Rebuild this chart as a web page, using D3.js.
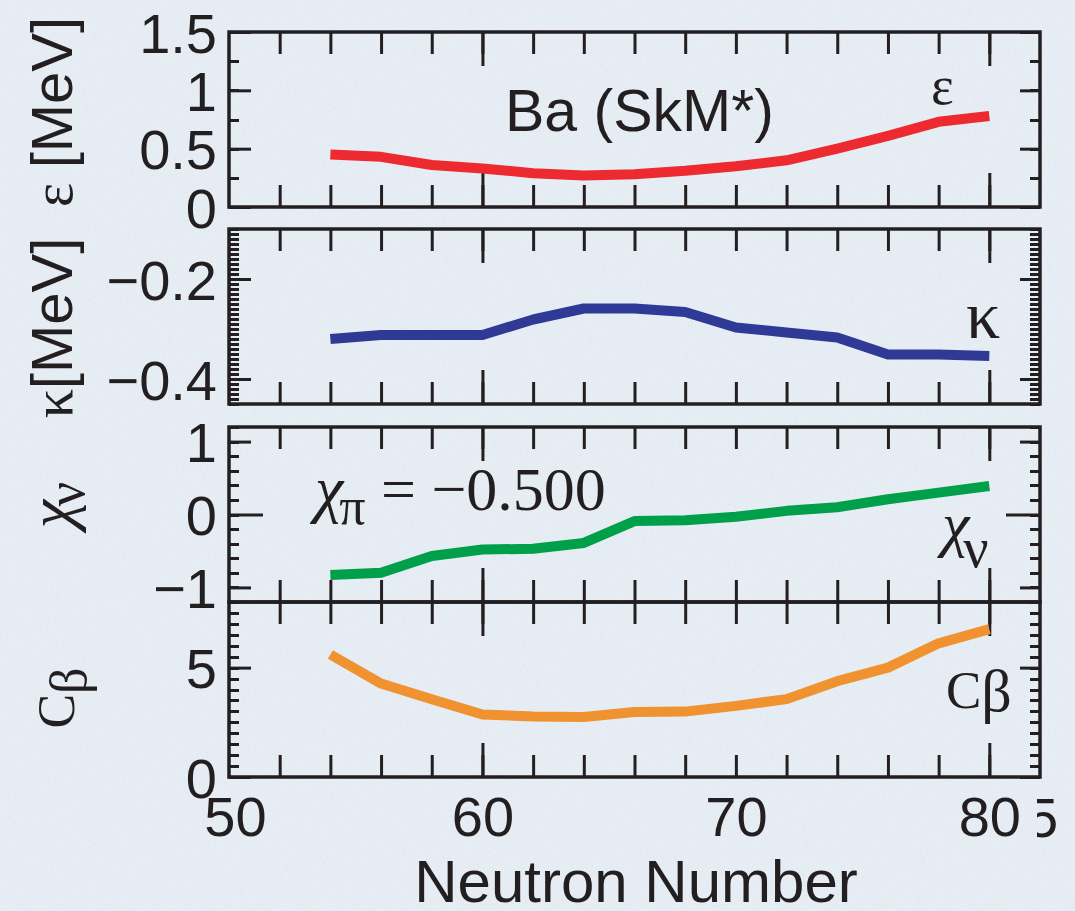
<!DOCTYPE html>
<html>
<head>
<meta charset="utf-8">
<script src="https://d3js.org/d3.v7.min.js"></script>
<style>
  body { margin: 0; background: #e6edf4; }
  svg { display: block; }
  .tick text { font-family: "Liberation Sans", Arial, sans-serif; font-size: 56px; fill: #231f20; }
  .serif { font-family: "Liberation Serif", "Times New Roman", serif; }
  .sans { font-family: "Liberation Sans", Arial, sans-serif; }
</style>
</head>
<body>
<div id="chart"></div>
<script>
/* Values */
var neutrons = [54, 56, 58, 60, 62, 64, 66, 68, 70, 72, 74, 76, 78, 80];
var epsilon = [0.45, 0.43, 0.36, 0.33, 0.29, 0.27, 0.28, 0.31, 0.35, 0.40, 0.50, 0.61, 0.73, 0.78];
var kappa = [-0.32, -0.312, -0.312, -0.312, -0.281, -0.259, -0.259, -0.266, -0.297, -0.307, -0.317, -0.351, -0.351, -0.354];
var chiNu = [-0.83, -0.80, -0.57, -0.48, -0.47, -0.39, -0.09, -0.08, -0.03, 0.05, 0.10, 0.21, 0.30, 0.39];
var cBeta = [5.6, 4.27, 3.55, 2.86, 2.77, 2.74, 2.97, 2.99, 3.25, 3.56, 4.38, 5.0, 6.11, 6.76];

var xMinorTicks = d3.range(52, 82, 2);
var xMajorTicks = [60, 80];
var xTickLabels = [50, 60, 70, 80];

var epsTicks = [0, 0.5, 1, 1.5];
var kapTicks = [-0.4, -0.2];
var chiTicks = [-1, 0, 1];
var cbTicks = [0, 5];

var width = 1075, height = 911;
var left = 229, right = 1040;
var panelH = 175;
var ink = "#231f20";

var svg = d3.select("#chart").append("svg")
  .attr("width", width)
  .attr("height", height);

// paper-like background
var defs = svg.append("defs");
var f = defs.append("filter").attr("id", "paper").attr("x", 0).attr("y", 0).attr("width", "100%").attr("height", "100%");
f.append("feTurbulence").attr("type", "fractalNoise").attr("baseFrequency", "0.35 0.9").attr("numOctaves", 3).attr("seed", 7);
f.append("feColorMatrix").attr("type", "saturate").attr("values", 0);
svg.append("rect").attr("width", width).attr("height", height).attr("fill", "#e8eff6");
svg.append("rect").attr("width", width).attr("height", height).attr("filter", "url(#paper)").attr("opacity", 0.1);

var x = d3.scaleLinear().domain([50, 82]).range([left, right]);

var panels = [
  { top: 32, domain: [0, 1.5], values: epsilon, color: "#ec2a30", major: epsTicks, long: [], minorStep: 0.25, minorW: 3 },
  { top: 229, domain: [-0.45, -0.1], values: kappa, color: "#2f3a96", major: kapTicks, long: [], minorStep: 0.01, minorW: 2.5 },
  { top: 427, domain: [-1.2, 1.2], values: chiNu, color: "#00a04b", major: [-1, 1], long: [0], minorStep: 0.2, minorW: 3 },
  { top: 602, domain: [0, 8], values: cBeta, color: "#f0922f", major: cbTicks, long: [], minorStep: 0.5, minorW: 3 }
];
var labelSets = [epsTicks, kapTicks, chiTicks, cbTicks];

function noDomain(g) { g.select(".domain").remove(); }

panels.forEach(function (p, i) {
  var y = d3.scaleLinear().domain(p.domain).range([p.top + panelH, p.top]);
  var g = svg.append("g").attr("color", ink);
  var bottom = p.top + panelH;

  var lo = p.domain[0], hi = p.domain[1];
  var minor = d3.range(Math.ceil(lo / p.minorStep - 1e-9), Math.floor(hi / p.minorStep + 1e-9) + 1)
    .map(function (k) { return +(k * p.minorStep).toFixed(4); });

  // x ticks, top and bottom of each panel, pointing in
  g.append("g").attr("transform", "translate(0," + p.top + ")")
    .call(d3.axisTop(x).tickValues(xMinorTicks).tickSize(-22).tickFormat("")).call(noDomain);
  g.append("g").attr("transform", "translate(0," + p.top + ")")
    .call(d3.axisTop(x).tickValues(xMajorTicks).tickSize(-34).tickFormat("")).call(noDomain);
  g.append("g").attr("transform", "translate(0," + bottom + ")")
    .call(d3.axisBottom(x).tickValues(xMinorTicks).tickSize(-22).tickFormat("")).call(noDomain);
  g.append("g").attr("transform", "translate(0," + bottom + ")")
    .call(d3.axisBottom(x).tickValues(xMajorTicks).tickSize(-34).tickFormat("")).call(noDomain);

  g.selectAll(".tick line").attr("stroke-width", 3);

  // y minor ticks, both sides
  var mg = g.append("g").attr("shape-rendering", "crispEdges");
  mg.append("g").attr("transform", "translate(" + left + ",0)")
    .call(d3.axisLeft(y).tickValues(minor).tickSize(-10).tickFormat("")).call(noDomain);
  mg.append("g").attr("transform", "translate(" + right + ",0)")
    .call(d3.axisRight(y).tickValues(minor).tickSize(-10).tickFormat("")).call(noDomain);
  mg.selectAll(".tick line").attr("stroke-width", p.minorW);

  // y major ticks
  var jg = g.append("g");
  jg.append("g").attr("transform", "translate(" + left + ",0)")
    .call(d3.axisLeft(y).tickValues(p.major).tickSize(-22).tickFormat("")).call(noDomain);
  jg.append("g").attr("transform", "translate(" + right + ",0)")
    .call(d3.axisRight(y).tickValues(p.major).tickSize(-20).tickFormat("")).call(noDomain);
  if (p.long.length) {
    jg.append("g").attr("transform", "translate(" + left + ",0)")
      .call(d3.axisLeft(y).tickValues(p.long).tickSize(-34).tickFormat("")).call(noDomain);
    jg.append("g").attr("transform", "translate(" + right + ",0)")
      .call(d3.axisRight(y).tickValues(p.long).tickSize(-34).tickFormat("")).call(noDomain);
  }
  jg.selectAll(".tick line").attr("stroke-width", 3);

  // tick labels
  g.append("g").attr("transform", "translate(" + left + ",0)")
    .call(d3.axisLeft(y).tickValues(labelSets[i]).tickSize(0).tickPadding(12).tickFormat(d3.format("")))
    .call(noDomain)
    .selectAll("text").attr("dy", "0.36em");

  // frame
  g.append("rect")
    .attr("x", left).attr("y", p.top)
    .attr("width", right - left).attr("height", panelH)
    .attr("fill", "none").attr("stroke", ink).attr("stroke-width", 3.5);

  // curve
  var line = d3.line()
    .x(function (d, j) { return x(neutrons[j]); })
    .y(function (d) { return y(d); });
  svg.append("path")
    .datum(p.values)
    .attr("d", line)
    .attr("fill", "none")
    .attr("stroke", p.color)
    .attr("stroke-width", 10)
    .attr("stroke-linejoin", "round")
    .attr("stroke-linecap", "butt");

  if (i === panels.length - 1) {
    g.append("g").attr("transform", "translate(0," + bottom + ")")
      .call(d3.axisBottom(x).tickValues(xTickLabels).tickSize(0).tickPadding(19).tickFormat(d3.format("")))
      .call(noDomain)
      .selectAll("text").attr("dx", function (d) { return d === 50 ? 6 : 0; });
  }
});

// clipped digit at the right of the x axis
defs.append("clipPath").attr("id", "cut").append("rect")
  .attr("x", 1037).attr("y", 780).attr("width", 40).attr("height", 80);
svg.append("text").attr("class", "sans").attr("clip-path", "url(#cut)")
  .attr("x", 1027).attr("y", 837).attr("font-size", 56).attr("fill", ink).text("5");

// axis title
svg.append("text").attr("class", "sans")
  .attr("x", 636).attr("y", 902).attr("text-anchor", "middle")
  .attr("font-size", 60).attr("fill", ink).text("Neutron Number");

// y titles (rotated)
function yTitle(cx, cy, build) {
  var t = svg.append("text")
    .attr("transform", "translate(" + cx + "," + cy + ") rotate(-90)")
    .attr("text-anchor", "middle").attr("fill", ink).attr("font-size", 58);
  build(t);
}
yTitle(72, 112, function (t) {
  t.append("tspan").attr("class", "serif").text("ε ");
  t.append("tspan").attr("class", "sans").text("[MeV]");
});
yTitle(72, 328, function (t) {
  t.append("tspan").attr("class", "serif").text("κ");
  t.append("tspan").attr("class", "sans").text("[MeV]");
});
yTitle(72, 505, function (t) {
  t.append("tspan").attr("class", "serif").attr("font-size", 64).attr("font-style", "italic").text("χ");
  t.append("tspan").attr("class", "serif").attr("font-size", 54).attr("dy", 12).attr("dx", -6).text("ν");
});
yTitle(74, 698, function (t) {
  t.append("tspan").attr("class", "serif").attr("font-size", 52).text("C");
  t.append("tspan").attr("class", "serif").attr("font-size", 52).attr("dy", 12).text("β");
});

// in-panel annotations
svg.append("text").attr("class", "sans").attr("x", 505).attr("y", 131)
  .attr("font-size", 59).attr("fill", ink).text("Ba (SkM*)");
svg.append("text").attr("class", "serif").attr("x", 931).attr("y", 104)
  .attr("font-size", 54).attr("fill", ink).text("ε");
svg.append("text").attr("class", "serif").attr("x", 966).attr("y", 338)
  .attr("font-size", 68).attr("fill", ink).text("κ");

var chiR = svg.append("text").attr("class", "serif").attr("x", 942).attr("y", 545).attr("fill", ink);
chiR.append("tspan").attr("font-size", 62).attr("font-style", "italic").text("χ");
chiR.append("tspan").attr("font-size", 56).attr("dy", 22).attr("dx", -6).text("ν");

var cbR = svg.append("text").attr("class", "serif").attr("x", 946).attr("y", 708).attr("fill", ink);
cbR.append("tspan").attr("font-size", 53).text("C");
cbR.append("tspan").attr("font-size", 60).attr("dy", 3).text("β");

var chiPi = svg.append("text").attr("class", "serif").attr("x", 315).attr("y", 510).attr("fill", ink);
chiPi.append("tspan").attr("font-size", 64).attr("font-style", "italic").text("χ");
chiPi.append("tspan").attr("font-size", 52).attr("dy", 14).attr("dx", -4).text("π");
chiPi.append("tspan").attr("font-size", 62).attr("dy", -14).text(" = −0.500");
</script>
</body>
</html>
